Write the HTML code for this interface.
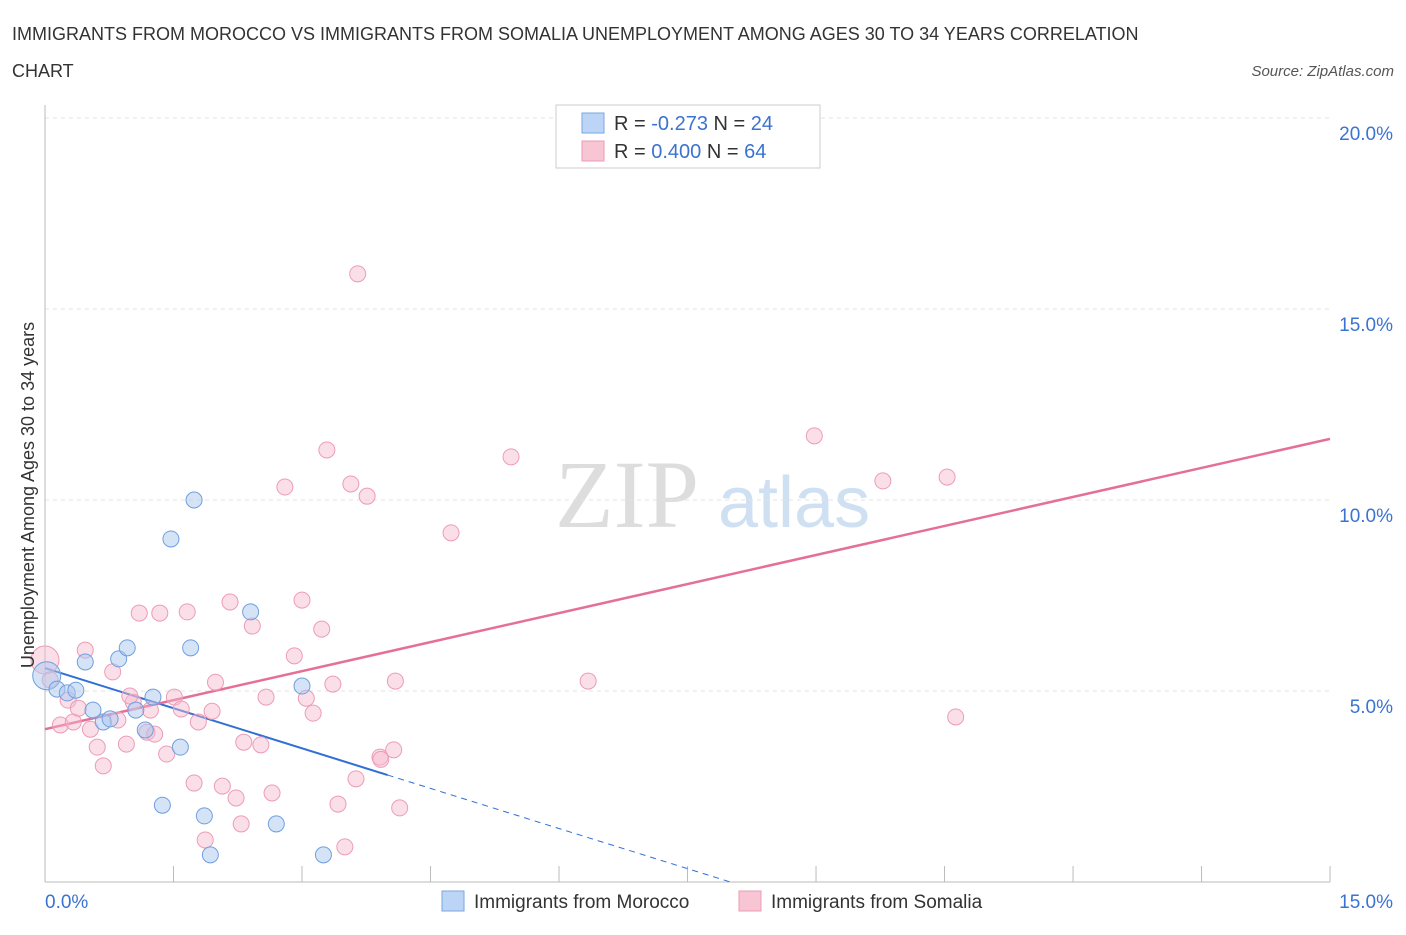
<!DOCTYPE html>
<html><head><meta charset="utf-8"><style>
body{margin:0;background:#fff;font-family:"Liberation Sans",sans-serif;}
</style></head><body>
<svg width="1406" height="930" xmlns="http://www.w3.org/2000/svg" id="chart" font-family="Liberation Sans, sans-serif">
<text x="12" y="40" font-size="18" fill="#333">IMMIGRANTS FROM MOROCCO VS IMMIGRANTS FROM SOMALIA UNEMPLOYMENT AMONG AGES 30 TO 34 YEARS CORRELATION</text>
<text x="12" y="77" font-size="18" fill="#333">CHART</text>
<text x="1394" y="76" font-size="15" fill="#555" text-anchor="end" font-style="italic">Source: ZipAtlas.com</text>
<text x="555" y="527" font-size="96" fill="#ddd" font-family="Liberation Serif, serif">ZIP</text>
<text x="718" y="527" font-size="72" fill="#cfe0f3">atlas</text>
<g id="grid"></g><g id="axes"></g><g id="lines"></g><g id="pts"></g>
<g>
<rect x="556" y="105" width="264" height="63" fill="#fff" stroke="#ccc"/>
<rect x="582" y="113" width="22" height="20" fill="#bcd4f5" stroke="#7aa7e0"/>
<rect x="582" y="141" width="22" height="20" fill="#f8c5d5" stroke="#ec9cb6"/>
<text x="614" y="130" font-size="20" fill="#333">R = <tspan fill="#3b73d1">-0.273</tspan>   N = <tspan fill="#3b73d1">24</tspan></text>
<text x="614" y="158" font-size="20" fill="#333">R =  <tspan fill="#3b73d1">0.400</tspan>   N = <tspan fill="#3b73d1">64</tspan></text>
</g>
<text transform="translate(34,495) rotate(-90)" font-size="18" fill="#333" text-anchor="middle">Unemployment Among Ages 30 to 34 years</text>
<g>
<rect x="442" y="891" width="22" height="20" fill="#bcd4f5" stroke="#7aa7e0"/>
<text x="474" y="908" font-size="19" fill="#333">Immigrants from Morocco</text>
<rect x="739" y="891" width="22" height="20" fill="#f8c5d5" stroke="#ec9cb6"/>
<text x="771" y="908" font-size="19" fill="#333">Immigrants from Somalia</text>
</g>
</svg>
<script>
const yTicks=[5,10,15,20];
const moroccoX=[0.02,0.14,0.26,0.36,0.47,0.56,0.68,0.76,0.86,0.96,1.06,1.17,1.26,1.47,1.58,1.37,1.70,1.74,1.86,1.93,2.40,2.70,3.00,3.25];
const moroccoY=[5.4,5.05,4.95,5.02,5.76,4.5,4.19,4.27,5.84,6.13,4.5,3.98,4.84,8.98,3.53,2.01,6.13,10.0,1.73,0.71,7.07,1.52,5.13,0.71];
const somaliaX=[0.0,0.06,0.18,0.27,0.33,0.39,0.47,0.53,0.61,0.68,0.79,0.85,0.95,1.03,1.10,1.19,1.23,1.28,1.34,1.42,1.51,1.59,1.66,1.74,1.79,1.87,1.95,1.99,2.07,2.16,2.23,2.29,2.32,2.42,2.52,2.58,2.65,2.80,2.91,3.00,3.05,3.13,3.23,3.29,3.36,3.42,3.50,3.57,3.63,3.65,3.76,3.91,3.92,4.07,4.09,4.14,4.74,5.44,6.34,8.98,9.78,10.53,10.63,0.99];
const somaliaY=[5.81,5.29,4.11,4.76,4.19,4.55,6.07,4.0,3.53,3.04,5.5,4.24,3.61,4.71,7.04,3.92,4.5,3.87,7.04,3.35,4.84,4.53,7.07,2.59,4.19,1.10,4.47,5.23,2.51,7.33,2.2,1.52,3.66,6.7,3.59,4.84,2.33,10.34,5.92,7.38,4.81,4.42,6.62,11.31,5.18,2.04,0.92,10.42,2.7,15.92,10.1,3.27,3.21,3.46,5.26,1.94,9.14,11.13,5.26,11.68,10.5,10.6,4.32,4.87];
const moroccoTrend=[0,5.6,4.0,2.8,8.0,0];
const somaliaTrend=[0,4.0,15,11.6];
const NS='http://www.w3.org/2000/svg';
const X=v=>45+v*85.67, Y=v=>882-v*38.2;
function mk(t,a,p){const e=document.createElementNS(NS,t);for(const k in a)e.setAttribute(k,a[k]);document.getElementById(p).appendChild(e);return e;}
yTicks.forEach(t=>{
 const l=mk('line',{x1:45,x2:1330,y1:Y(t),y2:Y(t),stroke:'#e3e3e3','stroke-dasharray':'4,4'},'grid');
 
 
 const tx=mk('text',{x:1393,y:Y(t)+22,'font-size':19,fill:'#3b73d1','text-anchor':'end'},'axes');tx.textContent=t.toFixed(1)+'%';
 
 
});
mk('line',{x1:45,x2:45,y1:105,y2:882,stroke:'#bbb'},'axes');
mk('line',{x1:45,x2:1330,y1:882,y2:882,stroke:'#bbb'},'axes');
for(let i=0;i<=10;i++){const t=mk('line',{x1:X(i*1.5),x2:X(i*1.5),y1:882,y2:866,stroke:'#bbb'},'axes');
 
 }
let a=mk('text',{x:45,y:908,'font-size':19,fill:'#3b73d1'},'axes');a.textContent='0.0%';


a=mk('text',{x:1393,y:908,'font-size':19,fill:'#3b73d1','text-anchor':'end'},'axes');a.textContent='15.0%';


somaliaX.forEach((v,i)=>{const c=mk('circle',{cx:X(v),cy:Y(somaliaY[i]),r:i==0?14:8,fill:'#f7b9cc','fill-opacity':0.45,stroke:'#ec9cb6','stroke-width':1},'pts');
 
 });
moroccoX.forEach((v,i)=>{const c=mk('circle',{cx:X(v),cy:Y(moroccoY[i]),r:i==0?14:8,fill:'#abc8f0','fill-opacity':0.5,stroke:'#6f9fdf','stroke-width':1},'pts');
 
 });
let l=mk('line',{x1:X(moroccoTrend[0]),y1:Y(moroccoTrend[1]),x2:X(moroccoTrend[2]),y2:Y(moroccoTrend[3]),stroke:'#2f6fd6','stroke-width':2},'lines');


l=mk('line',{x1:X(moroccoTrend[2]),y1:Y(moroccoTrend[3]),x2:X(moroccoTrend[4]),y2:Y(moroccoTrend[5]),stroke:'#2f6fd6','stroke-width':1,'stroke-dasharray':'6,5'},'lines');


l=mk('line',{x1:X(somaliaTrend[0]),y1:Y(somaliaTrend[1]),x2:X(somaliaTrend[2]),y2:Y(somaliaTrend[3]),stroke:'#e46f98','stroke-width':2.5},'lines');


</script>
</body></html>
